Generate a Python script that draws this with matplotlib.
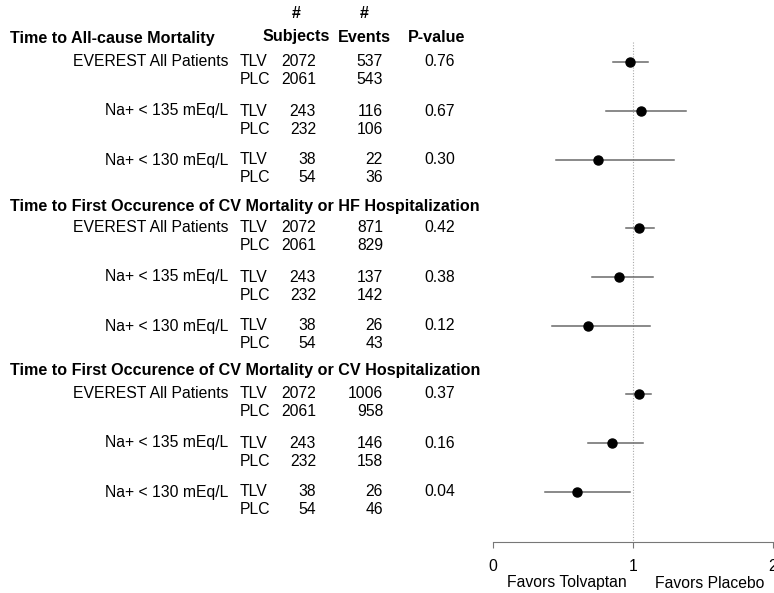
import matplotlib
matplotlib.use('Agg')
import matplotlib.pyplot as plt
from matplotlib.transforms import blended_transform_factory

plt.rcParams['font.family'] = ['Liberation Sans', 'DejaVu Sans']

# Data
sections = ['Time to All-cause Mortality',
            'Time to First Occurence of CV Mortality or HF Hospitalization',
            'Time to First Occurence of CV Mortality or CV Hospitalization']
subgroups = ['EVEREST All Patients', 'Na+ < 135 mEq/L', 'Na+ < 130 mEq/L']

subj_tlv = [2072, 243, 38]
subj_plc = [2061, 232, 54]

events_tlv = [[537, 116, 22], [871, 137, 26], [1006, 146, 26]]
events_plc = [[543, 106, 36], [829, 142, 43], [958, 158, 46]]
pvalues = [['0.76', '0.67', '0.30'], ['0.42', '0.38', '0.12'], ['0.37', '0.16', '0.04']]

hr = [[0.98, 1.06, 0.75], [1.04, 0.90, 0.68], [1.04, 0.85, 0.60]]
ci_lo = [[0.86, 0.81, 0.45], [0.95, 0.71, 0.42], [0.95, 0.68, 0.37]]
ci_hi = [[1.11, 1.38, 1.29], [1.15, 1.14, 1.12], [1.13, 1.07, 0.98]]

W, H = 774, 593
fig = plt.figure(figsize=(W / 100, H / 100), dpi=100)
ax = fig.add_axes([493 / W, (H - 542) / H, 280 / W, 542 / H])
ax.set_xlim(0, 2)
ax.set_ylim(542, 0)

# layout (pixel rows from top)
sec_step, sub_step, plc_off = 166, 49, 18
title_y = [39, 206, 371]

for i in range(3):
    for j in range(3):
        y = 62 + sec_step * i + sub_step * j
        ax.plot([ci_lo[i][j], ci_hi[i][j]], [y, y], color='#6a6a6a', lw=1.1, zorder=2)
        ax.plot(hr[i][j], y, 'o', color='black', ms=6.5, zorder=3)

ax.plot([1, 1], [42, 542], color='#aaaaaa', lw=0.8, ls=(0, (1, 1.5)), zorder=1)

for s in ['top', 'right', 'left']:
    ax.spines[s].set_visible(False)
ax.spines['bottom'].set_color('#777777')
ax.set_yticks([])
ax.set_xticks([0, 1, 2])
ax.set_xticklabels(['0', '1', '2'])
ax.tick_params(axis='x', length=4, color='#777777', labelsize=11.3, pad=8)

# text table
tr = blended_transform_factory(fig.transFigure, ax.transData)
fs = 11.3
fsb = 11.6

def put(xpx, y, s, **kw):
    ax.text(xpx / W, y, s, transform=tr, fontsize=kw.pop('fs', fs), va='center',
            clip_on=False, **kw)

put(296.5, 14, '#', ha='center', fontweight='bold', fs=fsb)
put(364.5, 14, '#', ha='center', fontweight='bold', fs=fsb)
put(296.5, 37, 'Subjects', ha='center', fontweight='bold', fs=fsb)
put(364.5, 37, 'Events', ha='center', fontweight='bold', fs=fsb)
put(437, 37, 'P-value', ha='center', fontweight='bold', fs=fsb)

for i in range(3):
    put(10, title_y[i], sections[i], ha='left', fontweight='bold', fs=fsb)
    for j in range(3):
        y = 62 + sec_step * i + sub_step * j
        put(228, y, subgroups[j], ha='right')
        put(240, y, 'TLV', ha='left')
        put(240, y + plc_off, 'PLC', ha='left')
        put(316, y, str(subj_tlv[j]), ha='right')
        put(316, y + plc_off, str(subj_plc[j]), ha='right')
        put(383, y, str(events_tlv[i][j]), ha='right')
        put(383, y + plc_off, str(events_plc[i][j]), ha='right')
        put(455, y, pvalues[i][j], ha='right')

fig.text(566.7 / W, 1 - 583 / H, 'Favors Tolvaptan', ha='center', va='center', fontsize=fs)
fig.text(710 / W, 1 - 583 / H, 'Favors Placebo', ha='center', va='center', fontsize=fs)

fig.savefig('out.png', dpi=100)
